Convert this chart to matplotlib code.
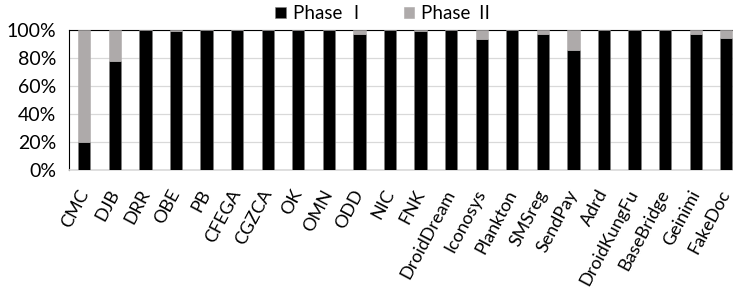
import matplotlib.pyplot as plt
import numpy as np

# data
families = ['CMC', 'DJB', 'DRR', 'OBE', 'PB', 'CFEGA', 'CGZCA', 'OK', 'OMN', 'ODD', 'NIC',
            'FNK', 'DroidDream', 'Iconosys', 'Plankton', 'SMSreg', 'SendPay', 'Adrd',
            'DroidKungFu', 'BaseBridge', 'Geinimi', 'FakeDoc']
phase1 = [20, 78, 100, 99, 100, 100, 100, 100, 100, 97.5, 100,
          99.3, 100, 93.5, 100, 97.5, 85.5, 100, 100, 100, 97, 94]
phase2 = [100 - v for v in phase1]

plt.rcParams['font.family'] = ['Lato', 'Noto Sans CJK SC', 'DejaVu Sans']

fig = plt.figure(figsize=(7.33, 2.88), dpi=100)
ax = fig.add_axes([69 / 733, 118 / 288, 664 / 733, 140 / 288])

x = np.arange(len(families))
w = 0.4
ax.bar(x, phase1, w, color='black', edgecolor='#7f7f7f', linewidth=0.4, label='Phase Ⅰ', zorder=3)
ax.bar(x, phase2, w, bottom=phase1, color='#aeaaaa', edgecolor='#aeaaaa', linewidth=0.4,
       label='Phase Ⅱ', zorder=3)

ax.set_ylim(0, 100)
ax.set_xlim(-0.5, 21.22)
ax.set_yticks([0, 20, 40, 60, 80, 100])
ax.set_yticklabels(['%d%%' % v for v in [0, 20, 40, 60, 80, 100]], fontsize=14)
ax.yaxis.grid(True, color='#d9d9d9', linewidth=0.9, zorder=0)
ax.set_axisbelow(True)
ax.tick_params(axis='y', length=0, pad=9)
ax.tick_params(axis='x', length=0, pad=15)
ax.set_xticks(x)
ax.set_xticklabels(families, rotation=62, ha='right', va='center', rotation_mode='anchor',
                   fontsize=13)

ax.spines['right'].set_visible(False)
ax.spines['top'].set_color('black')
ax.spines['left'].set_color('black')
ax.spines['bottom'].set_color('#d9d9d9')
ax.spines['bottom'].set_linewidth(1.2)

fig.legend(loc='upper center', bbox_to_anchor=(0.525, 1.04), ncol=2, frameon=False,
           fontsize=13.5, handlelength=0.55, handleheight=0.55, columnspacing=2.0, handletextpad=0.4)

plt.savefig('out.png', dpi=100)
